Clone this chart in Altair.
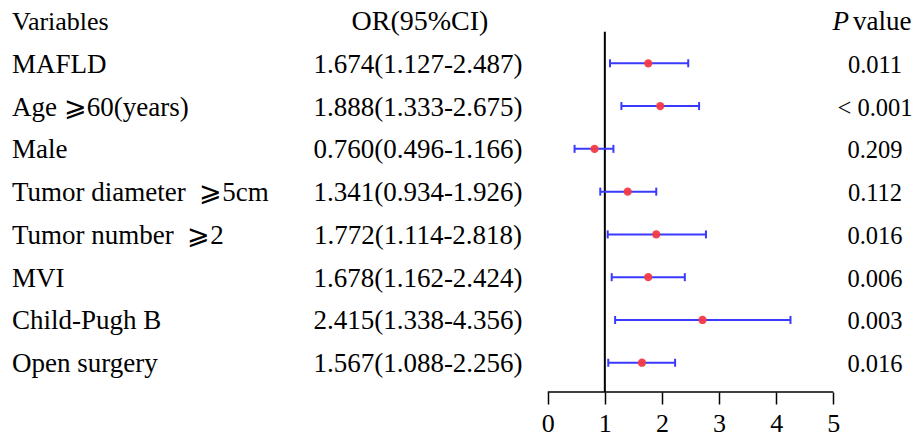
import altair as alt
import pandas as pd

variables = ["MAFLD", "Age \u2a7e60(years)", "Male", "Tumor diameter\u00a0\u00a0\u2a7e5cm",
             "Tumor number\u00a0\u00a0\u2a7e2", "MVI", "Child-Pugh B", "Open surgery"]
or_text = ["1.674(1.127-2.487)", "1.888(1.333-2.675)", "0.760(0.496-1.166)",
           "1.341(0.934-1.926)", "1.772(1.114-2.818)", "1.678(1.162-2.424)",
           "2.415(1.338-4.356)", "1.567(1.088-2.256)"]
p_text = ["0.011", "< 0.001", "0.209", "0.112", "0.016", "0.006", "0.003", "0.016"]
# plotted positions
est = [1.76, 1.97, 0.82, 1.40, 1.90, 1.76, 2.71, 1.65]
low = [1.09, 1.29, 0.47, 0.92, 1.05, 1.12, 1.18, 1.06]
high = [2.46, 2.65, 1.15, 1.90, 2.77, 2.40, 4.25, 2.23]
tick_values = [0, 1, 2, 3, 4, 5]
ref_value = 1

df = pd.DataFrame({
    "row": list(range(1, len(variables) + 1)),
    "var": variables, "or": or_text, "p": p_text,
    "est": est, "lo": low, "hi": high,
})
hdr = pd.DataFrame({"row": [0]})
refdf = pd.DataFrame({"v": [ref_value]})
axdf = pd.DataFrame({"a": [min(tick_values)], "b": [max(tick_values)]})

FONT = "Liberation Serif"
W, H = 905, 380
xs = alt.Scale(domain=[-9.449, 6.395], nice=False, zero=False)
ys = alt.Scale(domain=[-0.199, 8.684], reverse=True, nice=False, zero=False)
xaxis = alt.Axis(values=tick_values, domain=False, grid=False, tickSize=12,
                 tickWidth=1.5, tickColor="black", labelFont=FONT,
                 labelFontSize=26, labelColor="black", labelPadding=6,
                 title=None, labelFlush=False)

Y = alt.Y("row:Q", scale=ys, axis=None)

base = alt.Chart(df)

ref = alt.Chart(refdf).mark_rule(color="black", strokeWidth=2).encode(
    x=alt.X("v:Q", scale=xs, axis=xaxis),
    y=alt.value(19.7),
    y2=alt.value(H),
)

axis_line = alt.Chart(axdf).mark_rule(color="black", strokeWidth=1.7).encode(
    x=alt.X("a:Q", scale=xs, axis=xaxis),
    x2="b:Q",
    y=alt.value(H),
)

BLUE = "#3a3aff"
bars = base.mark_rule(color=BLUE, strokeWidth=2).encode(
    x=alt.X("lo:Q", scale=xs, axis=xaxis), x2="hi:Q", y=Y)
cap_lo = base.mark_rule(color=BLUE, strokeWidth=2, yOffset=-4, y2Offset=4).encode(
    x=alt.X("lo:Q", scale=xs, axis=xaxis), y=Y, y2="row:Q")
cap_hi = base.mark_rule(color=BLUE, strokeWidth=2, yOffset=-4, y2Offset=4).encode(
    x=alt.X("hi:Q", scale=xs, axis=xaxis), y=Y, y2="row:Q")
pts = base.mark_circle(color="#f23a46", opacity=0.95, size=68).encode(
    x=alt.X("est:Q", scale=xs, axis=xaxis), y=Y)

lab = base.mark_text(font=FONT, fontSize=27, align="left", baseline="alphabetic",
                     dy=9.5, color="black").encode(x=alt.value(4), y=Y, text="var:N")
ort = base.mark_text(font=FONT, fontSize=27, align="center", baseline="alphabetic",
                     dy=9.5, color="black").encode(x=alt.value(410), y=Y, text="or:N")
pt = base.mark_text(font=FONT, fontSize=24.5, align="center", baseline="alphabetic",
                    dy=9.5, color="black").encode(x=alt.value(867), y=Y, text="p:N")

h1 = alt.Chart(hdr).mark_text(font=FONT, fontSize=26, align="left", baseline="alphabetic",
                              dy=9, color="black", text="Variables").encode(
    x=alt.value(4), y=Y)
h2 = alt.Chart(hdr).mark_text(font=FONT, fontSize=28, align="center", baseline="alphabetic",
                              dy=9, color="black", text="OR(95%CI)").encode(
    x=alt.value(412), y=Y)
h3 = alt.Chart(hdr).mark_text(font=FONT, fontSize=27, align="right", baseline="alphabetic",
                              dy=9, color="black", text="P", fontStyle="italic").encode(
    x=alt.value(841), y=Y)
h4 = alt.Chart(hdr).mark_text(font=FONT, fontSize=27, align="left", baseline="alphabetic",
                              dy=9, color="black", text="value").encode(
    x=alt.value(845), y=Y)

chart = alt.layer(ref, axis_line, bars, cap_lo, cap_hi, pts, lab, ort, pt, h1, h2, h3, h4).properties(
    width=W, height=H,
    padding={"left": 0, "top": 4, "right": 0, "bottom": 46},
    autosize=alt.AutoSizeParams(type="none"),
    background="white",
).configure_view(strokeWidth=0)

chart.save("out.html", embed_options={"renderer": "svg", "actions": False})
